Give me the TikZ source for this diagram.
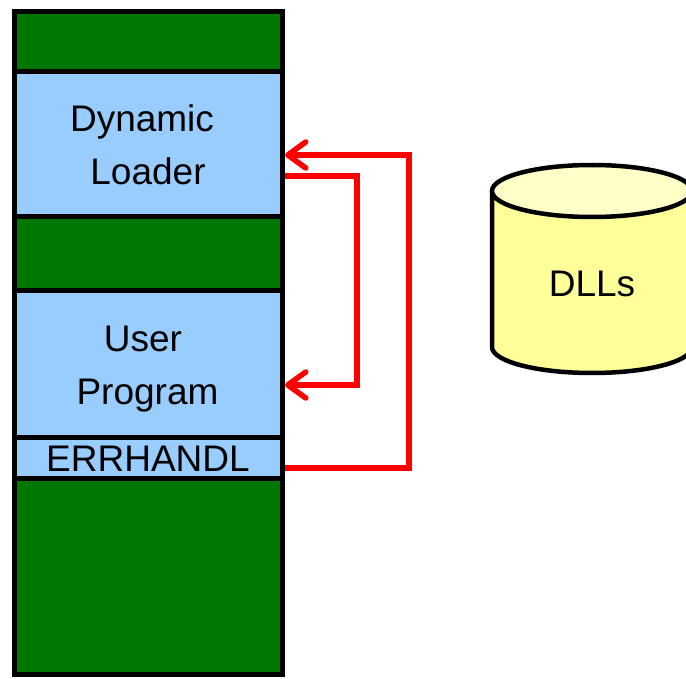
\documentclass[tikz,border=0pt]{standalone}
\usepackage{fontspec}
\setmainfont{Liberation Sans}
\usetikzlibrary{arrows.meta}
\definecolor{memgreen}{RGB}{0,120,0}
\definecolor{memblue}{RGB}{153,204,255}
\definecolor{cylbody}{RGB}{255,255,153}
\definecolor{cyltop}{RGB}{255,255,200}
\definecolor{flowred}{RGB}{255,0,0}
\tikzset{
  seg/.style={draw=black, line width=5pt, rectangle, inner sep=0pt, outer sep=0pt,
    minimum width=268pt, anchor=north west},
  lbl/.style={font=\fontsize{37}{44}\selectfont, anchor=base, inner sep=0pt},
  flow/.style={draw=flowred, line width=5.5pt, line join=miter,
    -{Straight Barb[length=18pt,width=26pt,round]}},
  cyl/.style={draw=black, line width=4.5pt}
}
\begin{document}
\begin{tikzpicture}[x=1pt,y=-1pt]
\useasboundingbox (0,0) rectangle (686,679);
\fill[white] (0,0) rectangle (686,679);
% memory stack
\node[seg, fill=memgreen, minimum height=60pt]  (g1)  at (14,12) {};
\node[seg, fill=memblue,  minimum height=145pt] (dl)  at (14,72) {};
\node[seg, fill=memgreen, minimum height=74pt]  (g2)  at (14,217) {};
\node[seg, fill=memblue,  minimum height=146pt] (up)  at (14,291) {};
\node[seg, fill=memblue,  minimum height=41pt]  (err) at (14,437) {};
\node[seg, fill=memgreen, minimum height=196pt] (g3)  at (14,478) {};
% labels
\node[lbl] (t1) at (142,132) {Dynamic};
\node[lbl] (t2) at (148,185) {Loader};
\node[lbl] (t3) at (143,352) {User};
\node[lbl] (t4) at (147.5,404) {Program};
\node[lbl] (t5) at (148,471) {ERRHANDL};
% cylinder
\path[fill=cylbody] (492,191) -- (492,347) arc[start angle=180, end angle=0, x radius=100, y radius=26] -- (692,191) -- cycle;
\draw[cyl] (492,191) -- (492,347) arc[start angle=180, end angle=0, x radius=100, y radius=26] -- (692,191);
\draw[cyl, fill=cyltop] (592,191) ellipse[x radius=100, y radius=26];
\node[lbl] (dlls) at (592,297) {DLLs};
% connectors
\coordinate (c1) at (409,468);
\coordinate (c2) at (357,176);
\draw[flow] ([xshift=2.5pt]err.east |- c1) -| (409,155) -- ([xshift=3pt]dl.east |- 0,155);
\draw[flow] ([xshift=2.5pt]dl.east |- c2) -| (357,385) -- ([xshift=3pt]up.east |- 0,385);
\end{tikzpicture}
\end{document}
